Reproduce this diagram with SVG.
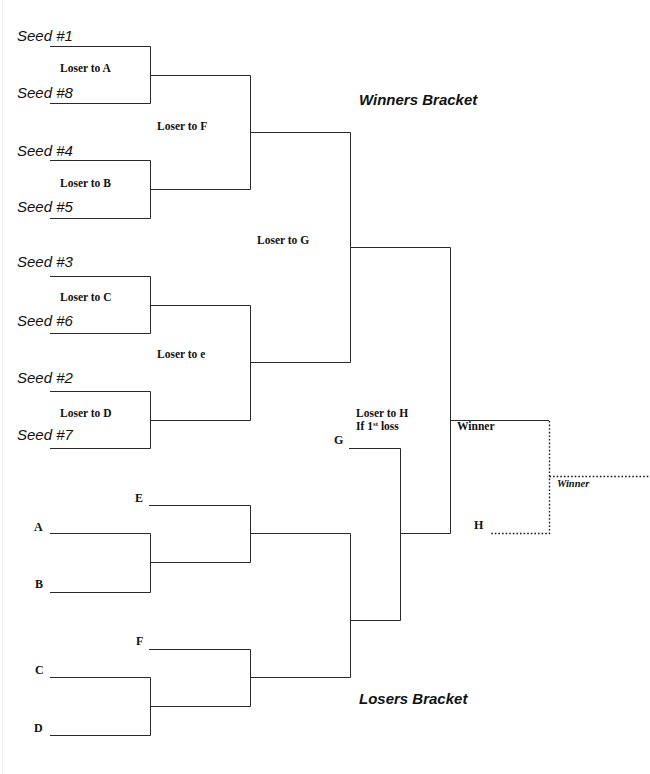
<svg xmlns="http://www.w3.org/2000/svg" width="650" height="774" viewBox="0 0 650 774">
<style>
.ln{fill:none;stroke:#2a2a2a;stroke-width:1}
.dot{fill:none;stroke:#1a1a1a;stroke-width:1.4;stroke-dasharray:1.6 2}
.seed{font-family:"Liberation Sans",Arial,sans-serif;font-style:italic;font-size:15px;fill:#111}
.lbl{font-family:"Liberation Serif","Times New Roman",serif;font-weight:bold;font-size:11.5px;fill:#111}
.let{font-family:"Liberation Serif","Times New Roman",serif;font-weight:bold;font-size:12px;fill:#111}
.title{font-family:"Liberation Sans",Arial,sans-serif;font-style:italic;font-weight:bold;font-size:15px;fill:#111}
.wi{font-family:"Liberation Serif","Times New Roman",serif;font-style:italic;font-weight:bold;font-size:10.5px;fill:#111}
</style>
<rect width="650" height="774" fill="#fff"/>
<line x1="2.5" y1="0" x2="2.5" y2="774" stroke="#f0f0f0" stroke-width="1"/>
<g id="connectors">
<path class="ln" d="M50 46.5H150.5V103.5H50"/>
<path class="ln" d="M50 160.5H150.5V218.5H50"/>
<path class="ln" d="M50 276.5H150.5V333.5H50"/>
<path class="ln" d="M50 391.5H150.5V448.5H50"/>
<path class="ln" d="M150.5 75.5H250.5V189.5H150.5"/>
<path class="ln" d="M150.5 305.5H250.5V420.5H150.5"/>
<path class="ln" d="M250.5 132.5H350.5V362.5H250.5"/>
<path class="ln" d="M350.5 247.5H450.5V533.5H400.5"/>
<path class="ln" d="M450.5 420.5H549"/>
<path class="ln" d="M50 533.5H150.5V592.5H50"/>
<path class="ln" d="M50 677.5H150.5V735.5H50"/>
<path class="ln" d="M149 505.5H250.5V562.5H150.5"/>
<path class="ln" d="M149 649.5H250.5V706.5H150.5"/>
<path class="ln" d="M250.5 533.5H350.5V677.5H250.5"/>
<path class="ln" d="M350.5 620.5H400.5V448.5H349"/>
<path class="dot" d="M549.5 421V533.5H490"/>
<path class="dot" d="M549.5 476.5H650"/>
</g>
<g id="winners-bracket">
<text class="title" x="359" y="105">Winners Bracket</text>
</g>
<g id="seeds">
<text class="seed" x="17" y="41">Seed #1</text>
<text class="seed" x="17" y="98">Seed #8</text>
<text class="seed" x="17" y="156">Seed #4</text>
<text class="seed" x="17" y="212">Seed #5</text>
<text class="seed" x="17" y="267">Seed #3</text>
<text class="seed" x="17" y="326">Seed #6</text>
<text class="seed" x="17" y="383">Seed #2</text>
<text class="seed" x="17" y="440">Seed #7</text>
</g>
<g id="loser-labels">
<text class="lbl" x="60" y="72">Loser to A</text>
<text class="lbl" x="60" y="187">Loser to B</text>
<text class="lbl" x="60" y="301">Loser to C</text>
<text class="lbl" x="60" y="417">Loser to D</text>
<text class="lbl" x="157" y="130">Loser to F</text>
<text class="lbl" x="157" y="358">Loser to e</text>
<text class="lbl" x="257" y="244">Loser to G</text>
<text class="lbl" x="356" y="417">Loser to H</text>
<text class="lbl" x="356" y="430">If 1<tspan font-size="7" dy="-4">st</tspan><tspan dy="4"> loss</tspan></text>
</g>
<g id="final">
<text class="lbl" x="457" y="430">Winner</text>
<text class="wi" x="557" y="487">Winner</text>
<text class="let" x="474" y="529">H</text>
<text class="let" x="334" y="444">G</text>
</g>
<g id="losers-bracket">
<text class="let" x="135" y="502">E</text>
<text class="let" x="34" y="531">A</text>
<text class="let" x="35" y="588">B</text>
<text class="let" x="136" y="645">F</text>
<text class="let" x="35" y="674">C</text>
<text class="let" x="34" y="732">D</text>
<text class="title" x="359" y="704">Losers Bracket</text>
</g>
</svg>
